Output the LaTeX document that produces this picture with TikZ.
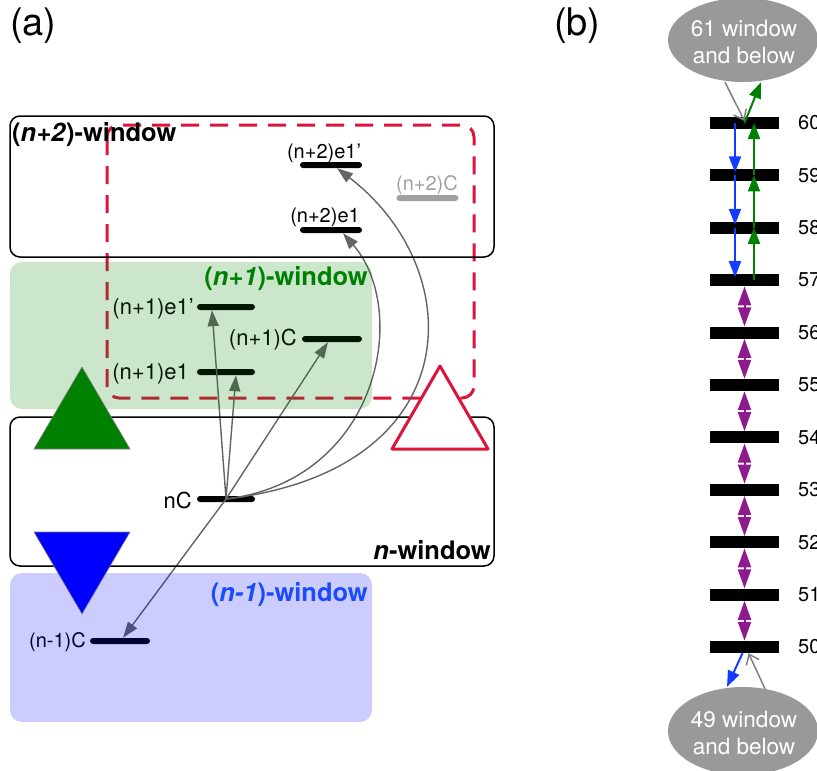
\documentclass[tikz,border=0pt]{standalone}
\usepackage{fontspec}
\setmainfont{TeX Gyre Heros}
\usetikzlibrary{arrows.meta,calc,shapes.geometric}
\definecolor{crim}{RGB}{220,20,60}
\definecolor{gre}{RGB}{0,128,0}
\definecolor{blu}{RGB}{0,0,255}
\definecolor{lblue}{RGB}{25,75,255}
\definecolor{arrgrey}{RGB}{100,100,100}
\definecolor{lgrey}{RGB}{160,160,160}
\definecolor{purp}{RGB}{142,27,142}
\definecolor{ellg}{RGB}{153,153,153}
\definecolor{bblue}{RGB}{20,60,255}
\newcommand{\myfs}[1]{\fontsize{#1}{#1}\selectfont}
\begin{document}
\begin{tikzpicture}[x=1pt,y=-1pt,
  levbar/.style={rectangle, fill=black, minimum width=62pt, minimum height=6pt, inner sep=0pt, rounded corners=3pt},
  lvlab/.style={inner sep=0pt, font=\myfs{22}},
  garr/.style={draw=arrgrey, line width=1.4pt, -{Triangle[length=16pt,width=11pt]}},
  winbox/.style={draw=black, line width=1.5pt, rounded corners=10pt},
  winlab/.style={inner sep=0pt, font=\myfs{25.5}\bfseries},
  bbar/.style={rectangle, fill=black, minimum width=69pt, minimum height=12pt, inner sep=0pt},
  numlab/.style={anchor=west, inner sep=0pt, font=\myfs{20}},
  bluarr/.style={draw=bblue, line width=2pt, -{Triangle[length=16pt,width=12pt]}},
  grnarr/.style={draw=gre, line width=2pt, -{Triangle[length=16pt,width=12pt]}},
  purarr/.style={draw=purp, line width=2pt, {Triangle[length=19pt,width=13pt]}-{Triangle[length=19pt,width=13pt]}},
  opengrey/.style={draw=gray, line width=1.5pt, -{Straight Barb[length=9pt,width=14pt]}},
  panlab/.style={inner sep=0pt, anchor=west, font=\myfs{38}},
  ell/.style={ellipse, fill=ellg, inner sep=0pt},
  elltxt/.style={text=white, align=center, inner sep=0pt, font=\fontsize{22.5}{27}\selectfont}
]
\useasboundingbox (0,0) rectangle (817,771);

% panel labels
\node[panlab] (pa) at (10,26) {(a)};
\node[panlab] (pb) at (554,26) {(b)};

% red dashed region
\draw[crim, line width=3pt, dash pattern=on 18pt off 11pt, rounded corners=12pt]
  (107,125) rectangle (474,398);

% levels (a)
\node[levbar] (e2p) at (331,165) {};
\node[levbar] (e2) at (331,230) {};
\node[levbar, fill=lgrey] (c2) at (427.5,198) {};
\node[levbar, minimum width=58pt] (e1p) at (226,307) {};
\node[levbar, minimum width=60pt] (c1) at (332,339) {};
\node[levbar, minimum width=58pt] (e1) at (226,372) {};
\node[levbar, minimum width=58pt] (nC) at (226,499) {};
\node[levbar, minimum width=60pt] (cm) at (120,641) {};

\node[lvlab, font=\myfs{20}] (le2p) at (324,153) {(n+2)e1’};
\node[lvlab, font=\myfs{20}] (le2) at (325,217) {(n+2)e1};
\node[lvlab, font=\myfs{20}, text=lgrey] (lc2) at (427,185) {(n+2)C};
\node[lvlab, anchor=east] (le1p) at (194,309) {(n+1)e1’};
\node[lvlab, anchor=east] (lc1) at (297,340) {(n+1)C};
\node[lvlab, anchor=east] (le1) at (189,374) {(n+1)e1};
\node[lvlab, anchor=east] (lnC) at (192,500) {nC};
\node[lvlab, anchor=east, font=\myfs{20}] (lcm) at (86,642) {(n-1)C};

% arrows (a)
\draw[garr] (nC.center) -- ([xshift=-14pt]e1p.south);
\draw[garr] (nC.center) -- ([xshift=10pt]e1.south);
\draw[garr] (nC.center) -- ([xshift=-4pt]c1.south);
\draw[garr] (nC.center) .. controls (380,480) and (410,310) .. ([xshift=12pt]e2.south);
\draw[garr] (nC.center) .. controls (470,470) and (470,270) .. ([xshift=6pt]e2p.south);
\draw[garr] (nC.center) -- ([xshift=3pt]cm.north);

% windows
\fill[gre, fill opacity=0.2, rounded corners=12pt] (10,262) rectangle (372,409);
\fill[blu, fill opacity=0.2, rounded corners=12pt] (10,573) rectangle (372,722);
\draw[winbox] (10,116) rectangle (494,257);
\draw[winbox] (10,417) rectangle (494,566);

% triangles
\draw[fill=gre, draw=gray, line width=0.6pt] (34,449) -- (130,449) -- (82,367) -- cycle;
\draw[fill=blu, draw=gray, line width=0.6pt] (34,532) -- (130,532) -- (82,614) -- cycle;
\draw[fill=white, draw=crim, line width=3pt, line join=round] (392,449) -- (488,449) -- (440,366) -- cycle;

% window labels
\node[winlab, anchor=west] (w2) at (12,135) {(\textit{n+2})-window};
\node[winlab, anchor=east, text=gre] (w1) at (368,279) {(\textit{n+1})-window};
\node[winlab, anchor=base east] (w0) at (491,559) {\textit{n}-window};
\node[winlab, anchor=east, text=lblue] (wm) at (368,595) {(\textit{n-1})-window};

% panel (b)
\foreach \k/\n in {0/60,1/59,2/58,3/57,4/56,5/55,6/54,7/53,8/52,9/51,10/50} {
  \node[bbar] (b\n) at (744.5,{123+52.4*\k}) {};
  \node[numlab] (l\n) at (798,{123+52.4*\k}) {\n};
}
\node[ell, minimum width=150pt, minimum height=84pt] (top) at (743,40) {};
\node[elltxt] (toptxt) at (744,42) {61 window\\and below};
\node[ell, minimum width=150pt, minimum height=88pt] (bot) at (743,731) {};
\node[elltxt] (bottxt) at (744,733) {49 window\\and below};

\foreach \a/\b in {60/59,59/58,58/57}
  \draw[bluarr] ([xshift=-9.5pt]b\a.center) -- ([xshift=-9.5pt,yshift=3pt]b\b.center);
\foreach \a/\b in {57/58,58/59,59/60}
  \draw[grnarr] ([xshift=9.5pt]b\a.center) -- ([xshift=9.5pt]b\b.center);
\foreach \a/\b in {57/56,56/55,55/54,54/53,53/52,52/51,51/50}
  \draw[purarr] (b\a.south) -- (b\b.north);

\draw[opengrey] ([xshift=-18pt]top.south) -- ([yshift=2pt]b60.center);
\draw[grnarr] (b60.center) -- ([xshift=18pt]top.south);
\draw[bluarr] ([xshift=-2pt]b50.south) -- ([xshift=-16pt]bot.north);
\draw[opengrey] ([xshift=22pt,yshift=-2pt]bot.north) -- ([xshift=4pt]b50.south);
\end{tikzpicture}
\end{document}
